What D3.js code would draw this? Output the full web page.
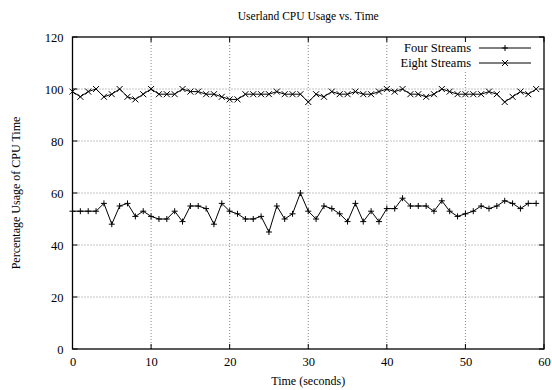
<!DOCTYPE html>
<html><head><meta charset="utf-8">
<script src="https://cdn.jsdelivr.net/npm/d3@7"></script>
<style>html,body{margin:0;padding:0;background:#fff}</style>
</head><body>
<script>
const times = d3.range(0, 60);
const fourStreams = [53,53,53,53,56,48,55,56,51,53,51,50,50,53,49,55,55,54,48,56,53,52,50,50,51,45,55,50,52,60,53,50,55,54,52,49,56,49,53,49,54,54,58,55,55,55,53,57,53,51,52,53,55,54,55,57,56,54,56,56];
const eightStreams = [99,97,99,100,97,98,100,97,96,98,100,98,98,98,100,99,99,98,98,97,96,96,98,98,98,98,99,98,98,98,95,98,97,99,98,98,99,98,98,99,100,99,100,98,98,97,98,100,99,98,98,98,98,99,98,95,97,99,98,100];
const xTicks = [0,10,20,30,40,50,60];
const yTicks = [0,20,40,60,80,100,120];
const seriesNames = ["Four Streams","Eight Streams"];
const titleText = "Userland CPU Usage vs. Time";
const xLabel = "Time (seconds)";
const yLabel = "Percentage Usage of CPU Time";

const W = 552, H = 390;
const m = {left: 72.5, right: 8, top: 37, bottom: 41};
const font = "'Liberation Serif', 'Times New Roman', serif";
const svg = d3.select("body").append("svg").attr("width", W).attr("height", H)
  .style("font-family", font);
const x = d3.scaleLinear().domain([0,60]).range([m.left, W - m.right]);
const y = d3.scaleLinear().domain([0,120]).range([H - m.bottom, m.top]);

// grid
const g = svg.append("g");
g.selectAll(".gx").data(xTicks.slice(1,-1)).join("line")
  .attr("x1", d=>x(d)).attr("x2", d=>x(d)).attr("y1", y(0)).attr("y2", y(120))
  .attr("stroke", "#888").attr("stroke-width", 1).attr("stroke-dasharray", "1,2");
g.selectAll(".gy").data(yTicks.slice(1,-1)).join("line")
  .attr("y1", d=>y(d)).attr("y2", d=>y(d)).attr("x1", x(0)).attr("x2", x(60))
  .attr("stroke", "#888").attr("stroke-width", 1).attr("stroke-dasharray", "1,2");

// legend background
svg.append("rect").attr("x", x(43)).attr("y", y(120)).attr("width", x(60)-x(43)).attr("height", 34).attr("fill", "#fff");

// ticks (inward, mirrored)
const tl = 5;
xTicks.forEach(t => {
  svg.append("line").attr("x1", x(t)).attr("x2", x(t)).attr("y1", y(0)).attr("y2", y(0)-tl).attr("stroke","#000");
  svg.append("line").attr("x1", x(t)).attr("x2", x(t)).attr("y1", y(120)).attr("y2", y(120)+tl).attr("stroke","#000");
});
yTicks.forEach(t => {
  svg.append("line").attr("x1", x(0)).attr("x2", x(0)+tl).attr("y1", y(t)).attr("y2", y(t)).attr("stroke","#000");
  svg.append("line").attr("x1", x(60)).attr("x2", x(60)-tl).attr("y1", y(t)).attr("y2", y(t)).attr("stroke","#000");
});

// axes labels via d3 axes
const xAxis = svg.append("g").attr("transform", `translate(0,${y(0)})`)
  .call(d3.axisBottom(x).tickValues(xTicks).tickSize(0).tickPadding(8));
const yAxis = svg.append("g").attr("transform", `translate(${x(0)},0)`)
  .call(d3.axisLeft(y).tickValues(yTicks).tickSize(0).tickPadding(9));
[xAxis, yAxis].forEach(a => {
  a.select(".domain").remove();
  a.selectAll("text").attr("font-family", font).attr("font-size", 12.5).attr("fill","#000");
});

// frame
svg.append("rect").attr("x", x(0)).attr("y", y(120)).attr("width", x(60)-x(0)).attr("height", y(0)-y(120))
  .attr("fill","none").attr("stroke","#000").attr("stroke-width",1.3);

// series
const line = d3.line().x((d,i)=>x(times[i])).y(d=>y(d));
const data = [fourStreams, eightStreams];
const ms = 3;
function plus(sel){ return sel.attr("d", d => `M${-ms},0H${ms}M0,${-ms}V${ms}`); }
function cross(sel){ return sel.attr("d", d => `M${-ms},${-ms}L${ms},${ms}M${-ms},${ms}L${ms},${-ms}`); }
data.forEach((vals, k) => {
  svg.append("path").datum(vals).attr("d", line).attr("fill","none").attr("stroke","#000").attr("stroke-width",1);
  const mk = svg.append("g").selectAll("path").data(vals).join("path")
    .attr("transform", (d,i)=>`translate(${x(times[i])},${y(d)})`)
    .attr("stroke","#000").attr("stroke-width",1).attr("fill","none");
  (k===0 ? plus : cross)(mk);
});

// legend
seriesNames.forEach((name, k) => {
  const ly = 48 + k*15;
  svg.append("text").attr("x", 471).attr("y", ly).attr("dy","0.35em").attr("text-anchor","end")
    .attr("font-size", 12.5).text(name);
  svg.append("line").attr("x1", 479).attr("x2", 531).attr("y1", ly).attr("y2", ly).attr("stroke","#000");
  const mk = svg.append("path").attr("transform", `translate(505,${ly})`).attr("stroke","#000").attr("fill","none");
  (k===0 ? plus : cross)(mk);
});

// titles
svg.append("text").attr("x", (x(0)+x(60))/2).attr("y", 20).attr("text-anchor","middle").attr("font-size", 11.5).text(titleText);
svg.append("text").attr("x", (x(0)+x(60))/2).attr("y", 385).attr("text-anchor","middle").attr("font-size", 12).text(xLabel);
svg.append("text").attr("transform", `translate(20,${(y(0)+y(120))/2}) rotate(-90)`).attr("text-anchor","middle").attr("font-size", 12).text(yLabel);
</script>
</body></html>
